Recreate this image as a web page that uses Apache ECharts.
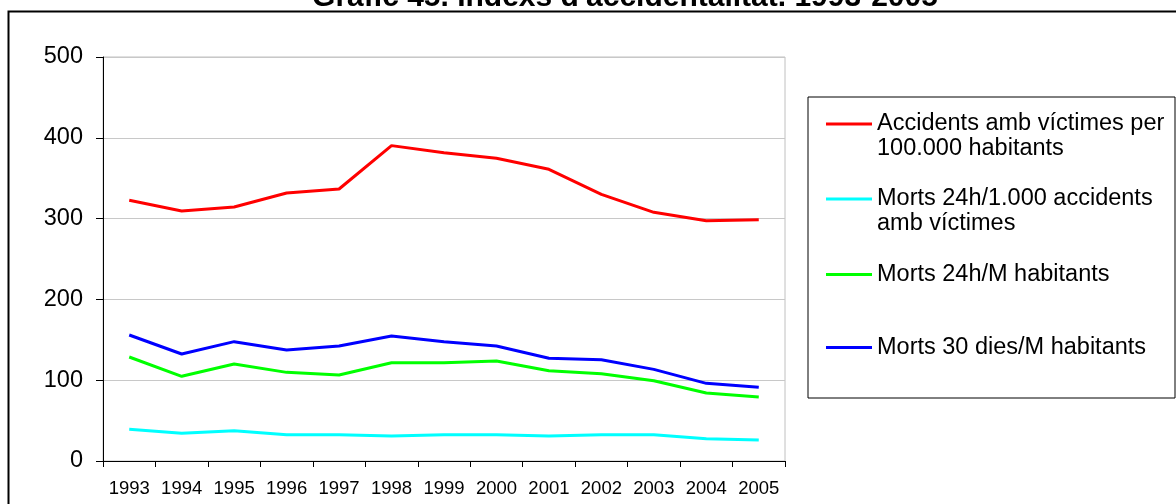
<!DOCTYPE html>
<html>
<head>
<meta charset="utf-8">
<script src="https://cdn.jsdelivr.net/npm/echarts@6/dist/echarts.min.js"></script>
<style>
html,body{margin:0;padding:0;background:#fff;}
#chart{width:1176px;height:504px;}
</style>
</head>
<body>
<div id="chart"></div>
<script>
const titleText = "Gràfic 45. Índexs d'accidentalitat. 1993-2005";
const categories = ['1993','1994','1995','1996','1997','1998','1999','2000','2001','2002','2003','2004','2005'];
const seriesNames = [
  'Accidents amb víctimes per\n100.000 habitants',
  'Morts 24h/1.000 accidents\namb víctimes',
  'Morts 24h/M habitants',
  'Morts 30 dies/M habitants'
];
const accidentsPer100k = [322.6, 309.4, 314.4, 331.7, 336.6, 390.3, 381.6, 374.6, 361.0, 330.0, 307.8, 297.4, 298.7];
const morts24hPer1000Acc = [39.2, 34.2, 37.5, 32.6, 32.6, 30.9, 32.6, 32.6, 30.9, 32.6, 32.6, 27.6, 26.0];
const morts24hPerMHab = [128.7, 104.8, 120.0, 109.7, 106.4, 121.7, 121.7, 123.8, 111.8, 108.1, 99.4, 84.2, 79.2];
const morts30dPerMHab = [155.9, 132.4, 147.7, 137.4, 142.3, 154.7, 147.7, 142.3, 127.1, 125.4, 113.4, 96.1, 91.2];
const yTicks = [0, 100, 200, 300, 400, 500];

const seriesData = [accidentsPer100k, morts24hPer1000Acc, morts24hPerMHab, morts30dPerMHab];
const colors = ['#ff0000', '#00ffff', '#00ff00', '#0000ff'];
const FONT = "'Liberation Sans', Arial, sans-serif";

const legendTops = [86.5, 161.5, 262, 335];

const chart = echarts.init(document.getElementById('chart'), null, {renderer: 'canvas'});
chart.setOption({
  backgroundColor: '#fff',
  animation: false,
  color: colors,
  grid: {left: 103, right: 391, top: 57, bottom: 43, show: true, borderColor: '#c0c0c0', borderWidth: 1, containLabel: false},
  xAxis: {
    type: 'category',
    data: categories,
    boundaryGap: true,
    axisLine: {show: true, lineStyle: {color: '#000', width: 1}},
    axisTick: {show: true, length: 6, interval: 0, lineStyle: {color: '#000'}},
    axisLabel: {interval: 0, margin: 18, fontSize: 18.5, fontFamily: FONT, color: '#000'},
    splitLine: {show: false}
  },
  yAxis: {
    type: 'value',
    min: yTicks[0],
    max: yTicks[yTicks.length - 1],
    interval: 100,
    axisLine: {show: true, lineStyle: {color: '#000', width: 1}},
    axisTick: {show: true, length: 7, lineStyle: {color: '#000'}},
    axisLabel: {margin: 20, fontSize: 23.5, fontFamily: FONT, color: '#000'},
    splitLine: {show: true, lineStyle: {color: '#c8c8c8', width: 1}}
  },
  legend: seriesNames.map((n, i) => ({
    data: [{name: n, icon: 'rect'}],
    orient: 'vertical',
    left: 826,
    top: legendTops[i],
    padding: 0,
    itemWidth: 46,
    itemHeight: 3,
    itemGap: 0,
    selectedMode: false,
    formatter: name => (name.indexOf('\n') >= 0 ? '\n' + name : name),
    textStyle: {fontSize: 23.5, fontFamily: FONT, color: '#000', lineHeight: 25}
  })),
  graphic: [
    {type: 'rect', z: -10, silent: true, shape: {x: 8.5, y: 11.5, width: 1200, height: 600},
     style: {fill: 'none', stroke: '#000', lineWidth: 2}},
    {type: 'rect', z: -5, silent: true, shape: {x: 808, y: 97, width: 367, height: 301},
     style: {fill: '#fff', stroke: '#000', lineWidth: 1}},
    {type: 'text', silent: true, style: {text: titleText, x: 625, y: 13, textAlign: 'center', textVerticalAlign: 'bottom',
      font: "bold 30px 'Liberation Sans', Arial, sans-serif", fill: '#000'}}
  ],
  series: seriesNames.map((n, i) => ({
    name: n,
    type: 'line',
    data: seriesData[i],
    symbol: 'none',
    lineStyle: {width: 3, color: colors[i]},
    itemStyle: {color: colors[i]}
  }))
});
</script>
</body>
</html>
